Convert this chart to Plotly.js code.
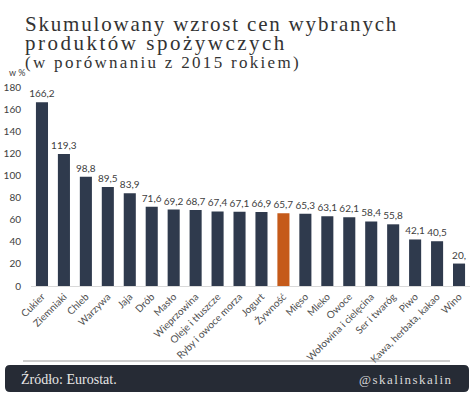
<!DOCTYPE html>
<html><head><meta charset="utf-8">
<script src="https://cdn.plot.ly/plotly-3.0.1.min.js"></script>
<style>html,body{margin:0;padding:0;background:#fff;}#chart{width:474px;height:397px;}</style>
</head><body><div id="chart"></div>
<script>
const categories = ["Cukier","Ziemniaki","Chleb","Warzywa","Jaja","Drób","Masło","Wieprzowina","Oleje i tłuszcze","Ryby i owoce morza","Jogurt","Żywność","Mięso","Mleko","Owoce","Wołowina i cielęcina","Ser i twaróg","Piwo","Kawa, herbata, kakao","Wino"];
const values = [166.2,119.3,98.8,89.5,83.9,71.6,69.2,68.7,67.4,67.1,66.9,65.7,65.3,63.1,62.1,58.4,55.8,42.1,40.5,20.3];
const valueLabels = ["166,2","119,3","98,8","89,5","83,9","71,6","69,2","68,7","67,4","67,1","66,9","65,7","65,3","63,1","62,1","58,4","55,8","42,1","40,5","20,"];
const highlight = "Żywność";
const yTicks = [0,20,40,60,80,100,120,140,160,180];

const W=474,H=397,L=31,R=4,T=87,B=111;
const pw=W-L-R, ph=H-T-B;
const px=x=>(x-L)/pw, py=y=>(H-B-y)/ph;

function roundRect(x0,y0,x1,y1,r){
  const rx=r/pw, ry=r/ph;
  const a=px(x0),b=px(x1),top=py(y0),bot=py(y1);
  return `M${a+rx},${top} L${b-rx},${top} Q${b},${top} ${b},${top-ry} L${b},${bot+ry} Q${b},${bot} ${b-rx},${bot} L${a+rx},${bot} Q${a},${bot} ${a},${bot+ry} L${a},${top-ry} Q${a},${top} ${a+rx},${top} Z`;
}

const barColors = categories.map(c=>c===highlight?'#c55a1a':'#2f3a4d');
const serif = '"Liberation Serif", "DejaVu Serif", serif';
const sans = 'Lato, "Open Sans", sans-serif';

const trace = {
  type:'bar', x:categories, y:values, text:valueLabels,
  textposition:'outside', cliponaxis:false, constraintext:'none',
  textfont:{family:sans,size:10,color:'#404040'},
  marker:{color:barColors}, hoverinfo:'none'
};

function ann(text,x,y,font,extra){
  return Object.assign({text,xref:'paper',yref:'paper',x:px(x),y:py(y),xanchor:'left',yanchor:'middle',align:'left',showarrow:false,font},extra||{});
}

const layout = {
  width:W,height:H,margin:{l:L,r:R,t:T,b:B},
  paper_bgcolor:'#fff',plot_bgcolor:'#fff',
  bargap:0.45, showlegend:false,
  xaxis:{tickangle:-45,tickfont:{family:sans,size:10,color:'#505050'},showline:true,linecolor:'#d9d9d9',linewidth:1,ticks:'',showgrid:false,range:[-0.5,19.5],fixedrange:true},
  yaxis:{range:[0,180],tickvals:yTicks,ticktext:yTicks.map(String),tickfont:{family:sans,size:10,color:'#404040'},showgrid:false,zeroline:false,showline:false,ticks:'',ticklabelstandoff:9,fixedrange:true},
  shapes:[
    {type:'line',xref:'paper',yref:'paper',x0:px(23),x1:px(450),y0:py(361),y1:py(361),line:{color:'#9a9a9a',width:1}},
    {type:'path',xref:'paper',yref:'paper',path:roundRect(5,365,469,392,5),fillcolor:'#262b35',line:{width:0}}
  ],
  annotations:[
    ann('Skumulowany wzrost cen wybranych',23,24,{family:serif,size:21,color:'#333'}),
    ann('produktów spożywczych',23,43,{family:serif,size:21,color:'#333'}),
    ann('(w porównaniu z 2015 rokiem)',23,62,{family:serif,size:17,color:'#333'}),
    ann('w %',7,73,{family:sans,size:9,color:'#404040'}),
    ann('Źródło: Eurostat.',19,379,{family:serif,size:14,color:'#e6e6e6'}),
    ann('@skalinskalin',357,379,{family:serif,size:13,color:'#d8d8d8'})
  ]
};

const spacing=['1.8px','2.5px','2.3px',null,null,'1.5px'];
Plotly.newPlot('chart',[trace],layout,{staticPlot:true,displayModeBar:false}).then(gd=>{
  const anns=gd.querySelectorAll('.annotation-text');
  anns.forEach((el,i)=>{ if(spacing[i]) el.style.letterSpacing=spacing[i]; });
});
</script></body></html>
